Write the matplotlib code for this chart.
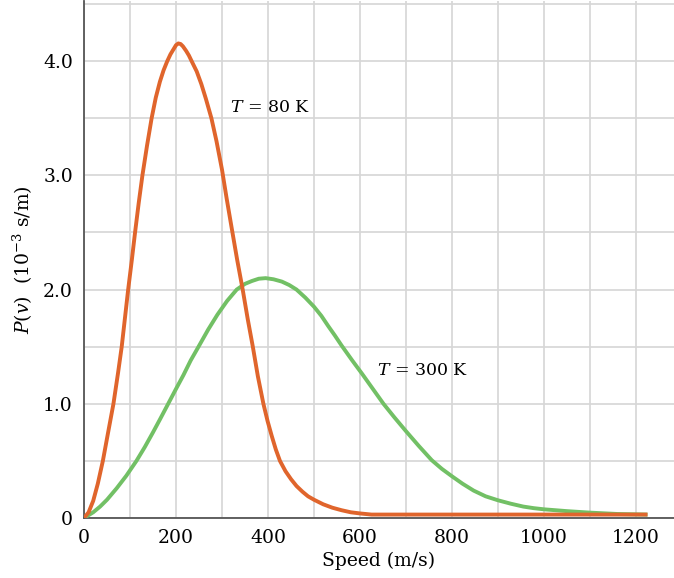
import numpy as np
import matplotlib
matplotlib.use('Agg')
import matplotlib.pyplot as plt

matplotlib.rcParams['font.family'] = 'DejaVu Serif'
matplotlib.rcParams['mathtext.fontset'] = 'dejavuserif'

# speed (m/s) and P(v) (1e-3 s/m)
v80 = [0, 10, 20, 30, 41, 52, 64, 74, 82, 89, 96, 104, 111, 119, 127, 137, 147, 156, 165, 173, 181,
       188, 194, 200, 205, 210, 215, 222, 228, 234, 245, 255, 265, 277, 288, 300, 310, 321, 333, 345,
       356, 367, 378, 390, 399, 408, 417, 426, 438, 450, 462, 475, 487, 500, 520, 540, 560, 580, 600,
       625, 700, 800, 900, 1000, 1100, 1225]
p80 = [0, 0.05, 0.15, 0.3, 0.5, 0.74, 1.0, 1.27, 1.5, 1.75, 2.0, 2.26, 2.5, 2.76, 3.0, 3.26, 3.5, 3.68,
       3.82, 3.92, 4.0, 4.06, 4.1, 4.14, 4.155, 4.15, 4.13, 4.09, 4.05, 4.0, 3.91, 3.8, 3.67, 3.5, 3.3,
       3.05, 2.8, 2.54, 2.26, 2.0, 1.74, 1.5, 1.24, 1.0, 0.85, 0.72, 0.6, 0.5, 0.41, 0.34, 0.28, 0.23,
       0.19, 0.16, 0.12, 0.09, 0.068, 0.05, 0.04, 0.03, 0.03, 0.03, 0.03, 0.03, 0.03, 0.03]

v300 = [0, 20, 35, 50, 71, 92, 114, 132, 150, 166, 183, 200, 216, 232, 249, 270, 290, 311, 332, 350,
        365, 380, 395, 412, 430, 446, 462, 481, 500, 516, 531, 545, 560, 583, 605, 628, 651, 675, 700,
        728, 756, 778, 800, 823, 847, 873, 900, 928, 955, 978, 1000, 1050, 1100, 1160, 1225]
p300 = [0, 0.05, 0.1, 0.16, 0.26, 0.37, 0.5, 0.62, 0.75, 0.87, 1.0, 1.13, 1.25, 1.38, 1.5, 1.65, 1.78,
        1.9, 2.0, 2.05, 2.075, 2.095, 2.1, 2.09, 2.07, 2.04, 2.0, 1.93, 1.85, 1.77, 1.68, 1.6, 1.51, 1.38,
        1.26, 1.13, 1.0, 0.88, 0.76, 0.63, 0.506, 0.43, 0.365, 0.3, 0.24, 0.19, 0.155, 0.125, 0.10, 0.086,
        0.076, 0.06, 0.047, 0.035, 0.03]

xticks = [0, 200, 400, 600, 800, 1000, 1200]
yticks = [0, 1, 2, 3, 4]
ytlabels = ['0', '1.0', '2.0', '3.0', '4.0']

fig = plt.figure(figsize=(6.74, 5.78), dpi=100)
ax = fig.add_axes([84/674, 60/578, 1 - 84/674, 517.4/578])

ax.plot(v300, p300, color='#72c065', lw=2.8, solid_capstyle='butt', solid_joinstyle='round', zorder=3)
ax.plot(v80, p80, color='#e0652c', lw=2.8, solid_capstyle='butt', solid_joinstyle='round', zorder=4)

ax.text(317, 3.59, r'$T$ = 80 K', fontsize=12.5, va='center', ha='left')
ax.text(636, 1.295, r'$T$ = 300 K', fontsize=12.5, va='center', ha='left')

ax.set_xlim(0, 590/0.46)
ax.set_ylim(0, 4.53)
ax.set_xticks(xticks)
ax.set_xticklabels([str(t) for t in xticks])
ax.set_xticks(np.arange(100, 1300, 200), minor=True)
ax.set_yticks(yticks)
ax.set_yticklabels(ytlabels)
ax.set_yticks(np.arange(0.5, 4.6, 1.0), minor=True)
ax.tick_params(which='both', length=0, labelsize=13.5)
ax.tick_params(axis='x', pad=8)
ax.tick_params(axis='y', pad=8)
ax.grid(True, which='both', color='#d6d6d6', lw=1.2, zorder=0)
ax.set_axisbelow(True)

for s in ['top', 'right']:
    ax.spines[s].set_visible(False)
for s in ['left', 'bottom']:
    ax.spines[s].set_color('#555555')
    ax.spines[s].set_linewidth(1.3)

ax.set_xlabel('Speed (m/s)', fontsize=13.5, labelpad=3)
ax.set_ylabel(r'$P(v)$  (10$^{-3}$ s/m)', fontsize=13.5, labelpad=6)

plt.savefig('out.png', dpi=100)
plt.close()
